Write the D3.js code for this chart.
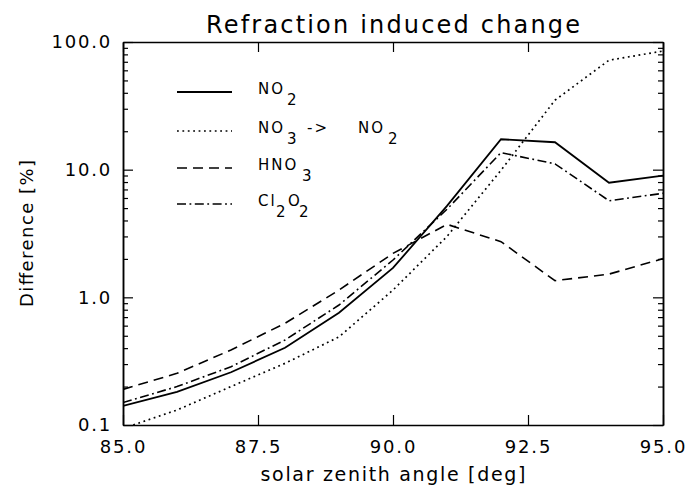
<!DOCTYPE html>
<html><head><meta charset="utf-8">
<script src="https://cdn.jsdelivr.net/npm/d3@7"></script>
<style>body{margin:0;background:#fff}svg{display:block}text{font-family:"DejaVu Sans",sans-serif;fill:#000}</style>
</head><body><svg id="c" width="689" height="486"></svg>
<script>
const angles = [85, 86, 87, 88, 89, 90, 91, 92, 93, 94, 95];
const no2    = [0.141, 0.182, 0.259, 0.403, 0.758, 1.70, 5.2, 17.3, 16.4, 7.9, 8.97];
const no3no2 = [0.094, 0.131, 0.200, 0.304, 0.49, 1.14, 3.0, 9.9, 35, 72, 85];
const hno3   = [0.19, 0.254, 0.387, 0.626, 1.14, 2.21, 3.73, 2.73, 1.35, 1.52, 2.01];
const cl2o2  = [0.150, 0.20, 0.286, 0.463, 0.871, 1.96, 4.9, 13.6, 11.1, 5.71, 6.53];
const xTicks = [85, 87.5, 90, 92.5, 95];
const yTicks = [0.1, 1, 10, 100];
const yMinor = [0.2,0.3,0.4,0.5,0.6,0.7,0.8,0.9,2,3,4,5,6,7,8,9,20,30,40,50,60,70,80,90];

const L = 123, R = 663, T = 42, B = 425;
const svg = d3.select("#c");
const x = d3.scaleLinear().domain([85, 95]).range([L, R]);
const y = d3.scaleLog().domain([0.1, 100]).range([B, T]);

// legend label pieces: [text, subscript?, x offset from legend text start]
const series = [
  {name: [["NO",0,0],["2",1,29]], values: no2, dash: null, w: 1.8},
  {name: [["NO",0,0],["3",1,29],["->",0,49],["NO",0,100],["2",1,130]], values: no3no2, dash: "1.8,3.6", w: 1.7},
  {name: [["HNO",0,0],["3",1,44]], values: hno3, dash: "10,6", w: 1.6},
  {name: [["Cl",0,0],["2",1,18],["O",0,30],["2",1,41]], values: cl2o2, dash: "9,3.5,1.8,3.5", w: 1.6}
];

svg.append("defs").append("clipPath").attr("id","clip")
  .append("rect").attr("x",L).attr("y",T).attr("width",R-L).attr("height",B-T);

const line = d3.line().x((d,i)=>x(angles[i])).y(d=>y(d));
series.forEach(s=>{
  svg.append("path").attr("clip-path","url(#clip)")
    .attr("d", line(s.values)).attr("fill","none").attr("stroke","#000")
    .attr("stroke-width", s.w).attr("stroke-dasharray", s.dash);
});

const fmt = d3.format(".1f");
function styleAxis(g){
  g.selectAll("path.domain").attr("stroke","#000").attr("stroke-width",1.5);
  g.selectAll(".tick line").attr("stroke","#000").attr("stroke-width",1.2);
  g.selectAll("text").style("font-family","DejaVu Sans").style("font-size","18px").attr("fill","#000").style("letter-spacing","1.8px");
}
svg.append("g").attr("transform",`translate(0,${B})`)
  .call(d3.axisBottom(x).tickValues(xTicks).tickFormat(fmt).tickSizeInner(-10).tickSizeOuter(0).tickPadding(15)).call(styleAxis);
svg.append("g").attr("transform",`translate(0,${T})`)
  .call(d3.axisTop(x).tickValues(xTicks).tickFormat("").tickSizeInner(-10).tickSizeOuter(0)).call(styleAxis);
svg.append("g").attr("transform",`translate(${L},0)`)
  .call(d3.axisLeft(y).tickValues(yTicks).tickFormat(fmt).tickSizeInner(-10).tickSizeOuter(0).tickPadding(11)).call(styleAxis);
svg.append("g").attr("transform",`translate(${R},0)`)
  .call(d3.axisRight(y).tickValues(yTicks).tickFormat("").tickSizeInner(-10).tickSizeOuter(0)).call(styleAxis);
svg.append("g").attr("transform",`translate(${L},0)`)
  .call(d3.axisLeft(y).tickValues(yMinor).tickFormat("").tickSizeInner(-5).tickSizeOuter(0)).call(styleAxis);
svg.append("g").attr("transform",`translate(${R},0)`)
  .call(d3.axisRight(y).tickValues(yMinor).tickFormat("").tickSizeInner(-5).tickSizeOuter(0)).call(styleAxis);

// titles
svg.append("text").attr("x",(L+R)/2).attr("y",33).attr("text-anchor","middle")
  .style("font-size","24px").attr("textLength",374).attr("lengthAdjust","spacing").text("Refraction induced change");
svg.append("text").attr("x",(L+R)/2).attr("y",481).attr("text-anchor","middle")
  .style("font-size","19px").attr("textLength",265).attr("lengthAdjust","spacing").text("solar zenith angle [deg]");
svg.append("text").attr("transform",`translate(33,${(T+B)/2}) rotate(-90)`).attr("text-anchor","middle")
  .style("font-size","18px").attr("textLength",147).attr("lengthAdjust","spacing").text("Difference [%]");

// legend
const legY = [92, 131, 168, 204];
const legX0 = 258;
series.forEach((s,i)=>{
  svg.append("line").attr("x1",177).attr("x2",232).attr("y1",legY[i]).attr("y2",legY[i])
    .attr("stroke","#000").attr("stroke-width",s.w).attr("stroke-dasharray",s.dash);
  const t = svg.append("text").attr("y",legY[i]+1.5)
    .style("font-size","15px").style("letter-spacing","2px");
  s.name.forEach(([str,sub,off])=>{
    t.append("tspan").attr("x", legX0 + off).attr("y", legY[i] + 1.5 + (sub ? 11 : 0)).text(str);
  });
});
</script></body></html>
